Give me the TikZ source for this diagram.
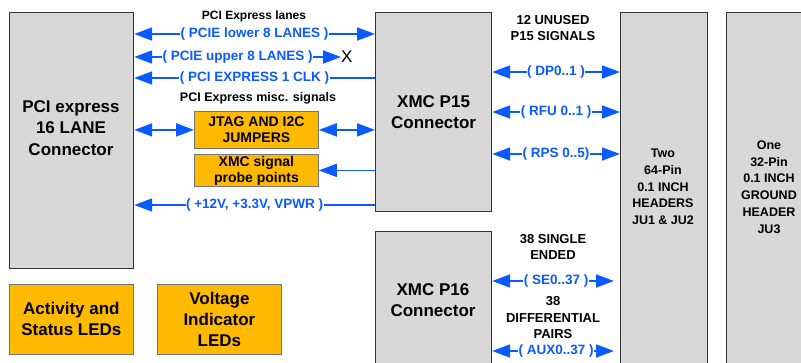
\documentclass[tikz,border=0pt]{standalone}
\usepackage{fontspec}
\setmainfont{Liberation Sans}
\usetikzlibrary{arrows.meta}

\definecolor{boxgray}{RGB}{216,216,216}
\definecolor{ledorange}{RGB}{255,186,0}
\definecolor{sigblue}{RGB}{10,90,255}

\tikzset{
  >={Triangle[length=18pt,width=13pt]},
  block/.style={draw=black!80,line width=1.2pt,fill=boxgray,anchor=north west,inner sep=0pt},
  part/.style={draw=black!55,line width=0.8pt,fill=ledorange,anchor=north west,inner sep=0pt,
    font=\fontsize{14}{16}\selectfont\bfseries,align=center},
  big/.style={font=\fontsize{17}{21.5}\selectfont\bfseries,align=center},
  note/.style={font=\fontsize{12}{16.5}\selectfont\bfseries,align=center,inner sep=0pt},
  sidenote/.style={font=\fontsize{13}{16.5}\selectfont\bfseries,align=center,inner sep=0pt},
  sig/.style={draw=sigblue,line width=1.8pt},
  tag/.style={fill=white,text=sigblue,font=\fontsize{13.5}{14}\selectfont\bfseries,inner sep=0.5pt}
}

\begin{document}
\begin{tikzpicture}[x=1pt,y=-1pt]

\clip (0,0) rectangle (801,362);
\fill[white] (0,0) rectangle (801,362);

% The connector and header blocks
\node[block,minimum width=124pt,minimum height=256pt] (pcie) at (9,12) {};
\node[big] (pcietxt) at (71,128) {PCI express\\16 LANE\\Connector};
\node[block,big,minimum width=116pt,minimum height=199pt] (p15) at (375,12) {XMC P15\\Connector};
\node[block,minimum width=116pt,minimum height=150pt] (p16) at (375,231) {};
\node[big] (p16txt) at (433,300) {XMC P16\\Connector};
\node[block,minimum width=87pt,minimum height=370pt] (hdr) at (620,12) {};
\node[note,font=\fontsize{12.5}{16.7}\selectfont\bfseries] (hdrtxt) at (663,187) {Two\\64-Pin\\0.1 INCH\\HEADERS\\JU1 \& JU2};
\node[block,minimum width=86pt,minimum height=370pt] (gnd) at (726,12) {};
\node[note,font=\fontsize{12.5}{16.7}\selectfont\bfseries] (gndtxt) at (769,187) {One\\32-Pin\\0.1 INCH\\GROUND\\HEADER\\JU3};

% The orange parts
\node[part,minimum width=124pt,minimum height=37pt] (jtag) at (194,111) {JTAG AND I2C\\JUMPERS};
\node[part,minimum width=124pt,minimum height=32pt] (probe) at (194,154) {XMC signal\\probe points};
\node[part,font=\fontsize{17}{21}\selectfont\bfseries,minimum width=124pt,minimum height=70pt] (actled) at (9,284) {Activity and\\Status LEDs};
\node[part,font=\fontsize{17}{21}\selectfont\bfseries,minimum width=124pt,minimum height=70pt] (voltled) at (157,284) {Voltage\\Indicator\\LEDs};

% PCI Express lanes between the two connectors
\node[note] (laneshd) at (254,16) {PCI Express lanes};
\draw[sig,<->] (pcie.east |- 0,34) -- node[tag]{( PCIE lower 8 LANES )} (p15.west |- 0,34);
\node[inner sep=0pt,anchor=west,font=\fontsize{17}{17}\selectfont] (nc) at (341,57) {X};
\draw[sig,<->] (pcie.east |- nc.west) -- node[tag]{( PCIE upper 8 LANES )} (nc.west);
\draw[sig,->] (p15.west |- 0,78) -- node[tag]{( PCI EXPRESS 1 CLK )} (pcie.east |- 0,78);

% Misc. signals and power
\node[note,font=\fontsize{12.5}{16}\selectfont\bfseries] (mischd) at (258,98) {PCI Express misc. signals};
\draw[sig,<->] (pcie.east |- jtag.west) -- (jtag.west);
\draw[sig,<->] (jtag.east) -- (p15.west |- jtag.east);
\draw[sig,->] (p15.west |- probe.east) -- (probe.east);
\draw[sig,->] (p15.west |- 0,205) -- node[tag]{( +12V, +3.3V, VPWR )} (pcie.east |- 0,205);

% Unused P15 signals to the headers
\node[sidenote] (unusedhd) at (553,28) {12 UNUSED\\P15 SIGNALS};
\draw[sig,<->] (p15.east |- 0,72) -- node[tag]{( DP0..1 )} (hdr.west |- 0,72);
\draw[sig,<->] (p15.east |- 0,112) -- node[tag]{( RFU 0..1 )} (hdr.west |- 0,112);
\draw[sig,<->] (p15.east |- 0,154) -- node[tag]{( RPS 0..5)} (hdr.west |- 0,154);

% P16 signals to the headers
\node[sidenote] (singlehd) at (553,247) {38 SINGLE\\ENDED};
\draw[sig,<->,shorten >=6pt] (p16.east |- 0,281) -- node[tag]{( SE0..37 )} (hdr.west |- 0,281);
\node[sidenote] (diffhd) at (553,318) {38\\DIFFERENTIAL\\PAIRS};
\draw[sig,<->,shorten >=6pt] (p16.east |- 0,351) -- node[tag]{( AUX0..37 )} (hdr.west |- 0,351);

\end{tikzpicture}
\end{document}
